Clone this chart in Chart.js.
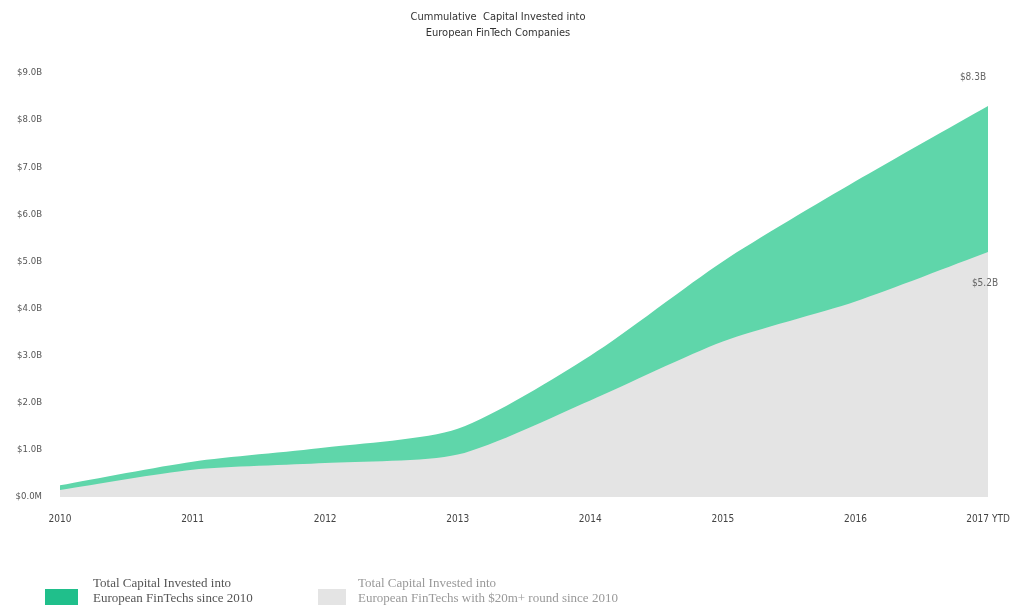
<!DOCTYPE html>
<html>
<head>
<meta charset="utf-8">
<script src="https://cdn.jsdelivr.net/npm/chart.js@4/dist/chart.umd.min.js"></script>
<style>
  html, body { margin: 0; padding: 0; background: #fff; }
  #wrap { width: 1020px; height: 611px; position: relative; }
</style>
</head>
<body>
<div id="wrap"><canvas id="chartFintech"></canvas></div>
<script>
// data
const tahun = ['2010', '2011', '2012', '2013', '2014', '2015', '2016', '2017 YTD'];
const total20m = [0.15, 0.58, 0.72, 0.9, 2.05, 3.3, 4.15, 5.2];
const totalSemua = [0.25, 0.75, 1.05, 1.45, 3.0, 5.0, 6.7, 8.3];
const labelAkhir = ['$5.2B', '$8.3B'];
const namaSeri = [
    ['Total Capital Invested into', 'European FinTechs with $20m+ round since 2010'],
    ['Total Capital Invested into', 'European FinTechs since 2010']
];

const hijau = '#5fd6aa';
const abu = '#e4e4e4';
const fontSempit = "'Liberation Sans Narrow', 'DejaVu Sans Condensed', Arial, sans-serif";

// label nilai di ujung kanan + legend bawah
const pluginTambahan = {
    id: 'tambahan',
    afterDraw(chart) {
        const c = chart.ctx;
        c.save();
        c.font = "10px " + fontSempit;
        c.fillStyle = '#666';
        c.textAlign = 'center';
        c.textBaseline = 'middle';
        const pAbu = chart.getDatasetMeta(0).data[tahun.length - 1];
        const pHijau = chart.getDatasetMeta(1).data[tahun.length - 1];
        c.fillText(labelAkhir[1], pHijau.x - 15, pHijau.y - 28);
        c.fillText(labelAkhir[0], pAbu.x - 3, pAbu.y + 31);

        // legend
        const items = [
            { warna: '#20bf8b', x: 45, w: 33, teks: namaSeri[1], tx: 93, warnaTeks: '#555' },
            { warna: abu, x: 318, w: 28, teks: namaSeri[0], tx: 358, warnaTeks: '#999' }
        ];
        c.textAlign = 'left';
        c.font = "13px 'Liberation Serif', 'DejaVu Serif', serif";
        items.forEach(it => {
            c.fillStyle = it.warna;
            c.fillRect(it.x, 589, it.w, 16);
            c.fillStyle = it.warnaTeks;
            c.fillText(it.teks[0], it.tx, 584);
            c.fillText(it.teks[1], it.tx, 599);
        });
        c.restore();
    }
};

const ctx = document.getElementById('chartFintech').getContext('2d');
new Chart(ctx, {
    type: 'line',
    data: {
        labels: tahun,
        datasets: [
            {
                label: namaSeri[0].join(' '),
                data: total20m,
                backgroundColor: abu,
                borderWidth: 0,
                pointRadius: 0,
                fill: 'origin',
                tension: 0.25
            },
            {
                label: namaSeri[1].join(' '),
                data: totalSemua,
                backgroundColor: hijau,
                borderWidth: 0,
                pointRadius: 0,
                fill: 'origin',
                tension: 0.25
            }
        ]
    },
    options: {
        responsive: true,
        maintainAspectRatio: false,
        animation: false,
        layout: { padding: { left: 8, right: 32, top: 0, bottom: 0 } },
        plugins: {
            legend: { display: false },
            tooltip: { enabled: false },
            title: {
                display: true,
                text: ['Cummulative  Capital Invested into', 'European FinTech Companies'],
                color: '#333',
                font: { size: 11, family: fontSempit, weight: 'normal', lineHeight: 1.45 },
                padding: { top: 9, bottom: 32 }
            }
        },
        scales: {
            x: {
                offset: false,
                grid: { display: false },
                border: { display: false },
                ticks: {
                    color: '#444',
                    font: { size: 10, family: fontSempit },
                    maxRotation: 0,
                    autoSkip: false,
                    padding: 8
                },
                afterFit(scale) { scale.height = 114; }
            },
            y: {
                min: 0,
                max: 9,
                grid: { display: false },
                border: { display: false },
                ticks: {
                    stepSize: 1,
                    color: '#555',
                    font: { size: 9.5, family: fontSempit },
                    padding: 10,
                    callback: v => v === 0 ? '$0.0M' : '$' + v.toFixed(1) + 'B'
                },
                afterFit(scale) { scale.width = 52; }
            }
        }
    },
    plugins: [pluginTambahan]
});
</script>
</body>
</html>
